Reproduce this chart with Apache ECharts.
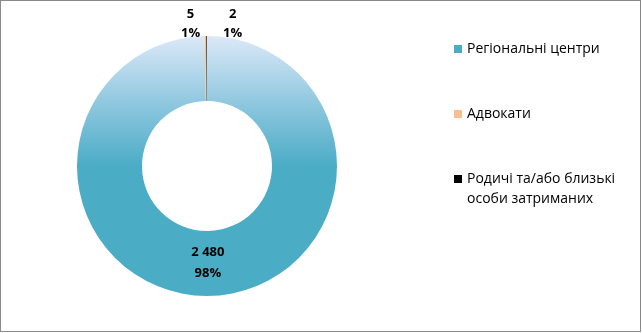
<!DOCTYPE html>
<html>
<head>
<meta charset="utf-8">
<script src="https://cdn.jsdelivr.net/npm/echarts@6/dist/echarts.min.js"></script>
<style>
  html, body { margin: 0; padding: 0; background: #fff; }
  #chart { width: 641px; height: 332px; box-sizing: border-box; border: 1px solid #8a8a8a; }
</style>
</head>
<body>
<div id="chart"></div>
<script>
  const CATEGORIES = ["Регіональні центри", "Адвокати", "Родичі та/або близькі особи затриманих"];
  // the blank first line keeps the legend icon level with the first text line
  const LEGEND_LABELS = ["Регіональні центри", "Адвокати", " \nРодичі та/або близькі\nособи затриманих"];
  const VALUES = [2480, 5, 2];
  const VALUE_LABELS = ["2 480", "5", "2"];
  const PERCENT_LABELS = ["98%", "1%", "1%"];
  const FONT = "'Open Sans', 'Noto Sans', sans-serif";

  var myChart = echarts.init(document.getElementById("chart"), null, { renderer: 'canvas' });

  var ringColor = new echarts.graphic.LinearGradient(0, 34, 0, 165, [
    { offset: 0, color: '#dde9f9' },
    { offset: 0.5, color: '#92c9e0' },
    { offset: 1, color: '#4bacc6' }
  ], true);
  var colors = [ringColor, '#f9c08f', '#000000'];
  var legendColors = ['#4bacc6', '#f9c08f', '#000000'];

  var legendBase = {
    orient: 'vertical',
    left: 448,
    icon: 'rect',
    itemWidth: 8,
    itemHeight: 8,
    itemGap: 45,
    formatter: (name) => LEGEND_LABELS[CATEGORIES.indexOf(name)],
    textStyle: { fontFamily: FONT, fontSize: 14, color: '#000', lineHeight: 20 }
  };
  var legendItem = (i) => ({ name: CATEGORIES[i], itemStyle: { color: legendColors[i] } });

  var option = {
    animation: false,
    legend: [
      Object.assign({}, legendBase, { top: 33, data: [legendItem(0), legendItem(1)] }),
      Object.assign({}, legendBase, { top: 143, data: [legendItem(2)] })
    ],
    series: [{
      type: 'pie',
      center: [206, 165],
      radius: [65, 130],
      startAngle: 90,
      clockwise: true,
      avoidLabelOverlap: false,
      data: CATEGORIES.map((name, i) => ({
        name: name,
        value: VALUES[i],
        itemStyle: { color: colors[i] },
        label: i === 0
          ? { position: 'inside' }
          : { position: 'outside', lineHeight: 19 }
      })),
      itemStyle: { borderWidth: 0 },
      label: {
        show: true,
        fontFamily: FONT,
        fontSize: 13,
        fontWeight: 'bold',
        color: '#000',
        lineHeight: 21,
        formatter: (p) => VALUE_LABELS[p.dataIndex] + '\n' + PERCENT_LABELS[p.dataIndex]
      },
      labelLine: { show: false, length: 0, length2: 0 },
      labelLayout: function (p) {
        if (p.dataIndex === 1) return { align: 'center', dx: -10, dy: -12 };
        if (p.dataIndex === 2) return { align: 'center', dx: 31, dy: -12 };
        return { dy: -4 };
      }
    }]
  };

  myChart.setOption(option);
  window.addEventListener('resize', myChart.resize);
</script>
</body>
</html>
